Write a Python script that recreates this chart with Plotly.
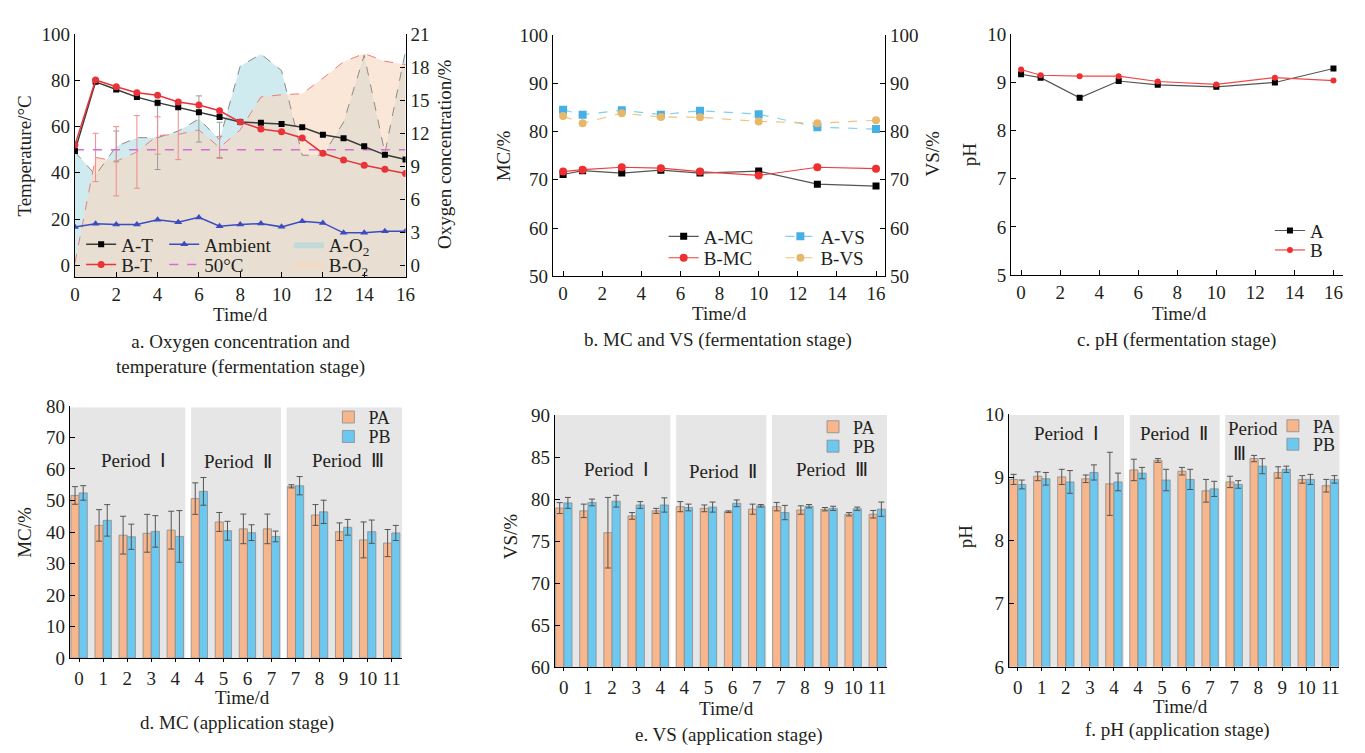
import plotly.graph_objects as go

W, H = 1365, 753
FONT = "Liberation Serif, Times New Roman, serif"
TXT = "#231f20"
FS = 19

# ------------------------------------------------------------------ data
days_a = list(range(17))
temp_A = [49.5, 79.4, 76.1, 72.8, 70.4, 68.4, 66.2, 64.2, 62.0, 61.7, 61.1, 59.7, 56.5, 55.0, 51.5, 47.8, 45.8]
temp_B = [52.0, 80.2, 77.3, 74.7, 73.6, 70.7, 69.4, 66.9, 62.0, 59.0, 57.8, 55.1, 48.5, 45.6, 43.3, 41.5, 39.7]
temp_ambient = [16.5, 17.9, 17.6, 17.6, 19.7, 18.6, 20.7, 16.9, 17.6, 18.0, 16.6, 19.0, 18.3, 14.0, 14.1, 14.7, 14.7]
temp_threshold = 50
o2_A = [10.3, 8.2, 10.8, 11.6, 11.6, 12.2, 13.3, 11.4, 18.1, 19.2, 17.7, 10.0, 10.0, 13.0, 19.1, 10.2, 19.5]
o2_B = [0.2, 9.8, 9.45, 10.3, 11.8, 11.9, 12.3, 10.7, 12.3, 15.3, 15.5, 15.6, 17.0, 18.5, 19.25, 18.55, 18.25]
o2_A_err = [None, None, 1.4, None, 2.9, None, 2.1, 1.6, None, None, None, None, None, None, None, None, None]
o2_B_err = [None, 2.2, 3.15, 3.3, 1.7, 2.3, None, 1.0, None, None, None, None, None, None, None, None, None]

days_bc = [0, 1, 3, 5, 7, 10, 13, 16]
mc_A = [71.1, 71.9, 71.4, 72.0, 71.4, 71.8, 69.1, 68.7]
mc_B = [71.7, 72.1, 72.6, 72.4, 71.7, 70.9, 72.6, 72.3]
vs_A = [84.5, 83.5, 84.4, 83.5, 84.3, 83.6, 80.9, 80.5]
vs_B = [83.2, 81.7, 83.8, 83.0, 82.95, 82.1, 81.7, 82.35]
ph_A = [9.17, 9.10, 8.68, 9.03, 8.95, 8.91, 9.00, 9.29]
ph_B = [9.27, 9.15, 9.13, 9.13, 9.02, 8.96, 9.10, 9.04]

app_labels = ["0", "1", "2", "3", "4", "4", "5", "6", "7", "7", "8", "9", "10", "11"]
periods = ["Period\u00a0\u00a0Ⅰ", "Period\u00a0\u00a0Ⅱ", "Period\u00a0\u00a0Ⅲ"]
mc_PA = [51.6, 42.1, 39.0, 39.6, 40.6, 50.6, 43.2, 41.0, 41.0, 54.5, 45.4, 40.1, 37.5, 36.5]
mc_PA_err = [2.8, 5.0, 6.0, 6.0, 6.0, 5.0, 3.0, 4.7, 4.7, 0.5, 3.3, 2.8, 5.7, 4.3]
mc_PB = [52.4, 43.7, 38.5, 40.2, 38.6, 52.9, 40.4, 39.8, 38.6, 54.7, 46.4, 41.5, 40.1, 39.7]
mc_PB_err = [2.3, 5.0, 4.0, 5.0, 8.2, 4.4, 3.0, 2.5, 1.7, 2.9, 3.7, 2.5, 3.7, 2.4]
vs_PA = [78.93, 78.6, 76.0, 78.0, 78.6, 79.1, 78.9, 78.5, 78.8, 79.1, 78.7, 78.8, 78.2, 78.2]
vs_PA_err = [0.65, 0.8, 4.2, 0.4, 0.3, 0.6, 0.4, 0.1, 0.6, 0.5, 0.5, 0.2, 0.2, 0.45]
vs_PB = [79.55, 79.6, 79.75, 79.3, 79.3, 79.0, 79.05, 79.5, 79.2, 78.4, 79.15, 78.9, 78.85, 78.8]
vs_PB_err = [0.65, 0.4, 0.7, 0.4, 0.85, 0.4, 0.6, 0.4, 0.15, 0.85, 0.2, 0.25, 0.2, 0.85]
ph_PA = [8.97, 9.02, 9.01, 8.98, 8.90, 9.12, 9.27, 9.10, 8.79, 8.93, 9.30, 9.08, 8.97, 8.87]
ph_PA_err = [0.08, 0.07, 0.12, 0.06, 0.5, 0.17, 0.03, 0.06, 0.18, 0.09, 0.05, 0.09, 0.06, 0.1]
ph_PB = [8.89, 8.98, 8.93, 9.08, 8.93, 9.07, 8.96, 8.97, 8.82, 8.89, 9.18, 9.13, 8.97, 8.97]
ph_PB_err = [0.07, 0.1, 0.18, 0.12, 0.14, 0.09, 0.17, 0.16, 0.12, 0.06, 0.12, 0.05, 0.08, 0.06]

# ------------------------------------------------------------------ helpers
def px(xp):
    return xp / W

def py(yp):
    return 1 - yp / H

def dom_x(a, b):
    return [px(a), px(b)]

def dom_y(top, bottom):
    return [py(bottom), py(top)]

font = dict(family=FONT, size=FS, color=TXT)

def axis(**kw):
    d = dict(showline=True, linecolor="black", linewidth=1.2, ticks="inside", ticklen=5,
             tickcolor="black", tickwidth=1.1, showgrid=False, zeroline=False,
             tickfont=font, fixedrange=True)
    d.update(kw)
    return d

legends = {}
leg_count = [0]
LEG_DX = -46  # text start -> legend box left offset

def new_legend(text_x, cy_px, size=FS):
    leg_count[0] += 1
    key = "legend" if leg_count[0] == 1 else "legend%d" % leg_count[0]
    legends[key] = dict(x=px(text_x + LEG_DX), y=py(cy_px), xanchor="left", yanchor="middle",
                        bgcolor="rgba(0,0,0,0)", borderwidth=0,
                        font=dict(family=FONT, size=size, color=TXT),
                        itemwidth=30, tracegroupgap=0)
    return key

def err_subset(xs, ys, errs):
    sx = [x for x, e in zip(xs, errs) if e is not None]
    sy = [y for y, e in zip(ys, errs) if e is not None]
    se = [e for e in errs if e is not None]
    return sx, sy, se

fig = go.Figure()

# ------------------------------------------------------------------ panel a
O2_MIN, O2_MAX = -1.105, 21
base = [O2_MIN] * len(days_a)
fig.add_trace(go.Scatter(x=days_a, y=base, mode="lines", line=dict(width=0), showlegend=False,
                         xaxis="x", yaxis="y", hoverinfo="skip"))
fig.add_trace(go.Scatter(x=days_a, y=o2_A, mode="lines", line=dict(width=0), fill="tonexty",
                         fillcolor="rgba(150,210,222,0.45)", name="A-O<sub>2</sub>",
                         legend=new_legend(333, 241), xaxis="x", yaxis="y"))
fig.add_trace(go.Scatter(x=days_a, y=base, mode="lines", line=dict(width=0), showlegend=False,
                         xaxis="x", yaxis="y", hoverinfo="skip"))
fig.add_trace(go.Scatter(x=days_a, y=o2_B, mode="lines", line=dict(width=0), fill="tonexty",
                         fillcolor="rgba(248,215,190,0.6)", name="B-O<sub>2</sub>",
                         legend=new_legend(333, 262), xaxis="x", yaxis="y"))
fig.add_trace(go.Scatter(x=days_a, y=o2_A, mode="lines", line=dict(color="#8a8a8a", width=1, dash="dash"),
                         showlegend=False, xaxis="x", yaxis="y"))
fig.add_trace(go.Scatter(x=days_a, y=o2_B, mode="lines", line=dict(color="#ee7b7b", width=1, dash="dash"),
                         showlegend=False, xaxis="x", yaxis="y"))
for ys, errs, col in ((o2_A, o2_A_err, "#9a9a9a"), (o2_B, o2_B_err, "#f08a8a")):
    sx, sy, se = err_subset(days_a, ys, errs)
    fig.add_trace(go.Scatter(x=sx, y=sy, mode="markers", marker=dict(size=1, opacity=0),
                             error_y=dict(type="data", array=se, color=col, thickness=1, width=3),
                             showlegend=False, xaxis="x", yaxis="y"))
fig.add_trace(go.Scatter(x=[days_a[0], days_a[-1]], y=[temp_threshold, temp_threshold], mode="lines",
                         line=dict(color="#d36fd3", width=1.5, dash="dash"), name="50°C",
                         legend=new_legend(207, 262), xaxis="x", yaxis="y2"))
fig.add_trace(go.Scatter(x=days_a, y=temp_ambient, mode="lines+markers",
                         line=dict(color="#3b4cc0", width=1.5),
                         marker=dict(symbol="triangle-up", size=7, color="#3b4cc0"), name="Ambient",
                         legend=new_legend(207, 241), xaxis="x", yaxis="y2"))
fig.add_trace(go.Scatter(x=days_a, y=temp_A, mode="lines+markers", line=dict(color="#3a3a3a", width=1.5),
                         marker=dict(symbol="square", size=6, color="black"), name="A-T",
                         legend=new_legend(123, 241), xaxis="x", yaxis="y2"))
fig.add_trace(go.Scatter(x=days_a, y=temp_B, mode="lines+markers", line=dict(color="#e8333a", width=1.5),
                         marker=dict(symbol="circle", size=7, color="#e8333a"), name="B-T",
                         legend=new_legend(123, 262), xaxis="x", yaxis="y2"))

# ------------------------------------------------------------------ panel b
fig.add_trace(go.Scatter(x=days_bc, y=vs_A, mode="lines+markers", line=dict(color="#7fd0f0", width=1.2, dash="dash"),
                         marker=dict(symbol="square", size=8, color="#45b0e6"), name="A-VS",
                         legend=new_legend(830, 233), xaxis="x2", yaxis="y4"))
fig.add_trace(go.Scatter(x=days_bc, y=vs_B, mode="lines+markers", line=dict(color="#f0c27a", width=1.2, dash="dash"),
                         marker=dict(symbol="circle", size=8, color="#e8b86a"), name="B-VS",
                         legend=new_legend(830, 255), xaxis="x2", yaxis="y4"))
fig.add_trace(go.Scatter(x=days_bc, y=mc_A, mode="lines+markers", line=dict(color="#555555", width=1.2),
                         marker=dict(symbol="square", size=7, color="black"), name="A-MC",
                         legend=new_legend(712, 233), xaxis="x2", yaxis="y3"))
fig.add_trace(go.Scatter(x=days_bc, y=mc_B, mode="lines+markers", line=dict(color="#f03c3c", width=1.2),
                         marker=dict(symbol="circle", size=8, color="#f03030"), name="B-MC",
                         legend=new_legend(712, 255), xaxis="x2", yaxis="y3"))

# ------------------------------------------------------------------ panel c
fig.add_trace(go.Scatter(x=days_bc, y=ph_A, mode="lines+markers", line=dict(color="#555555", width=1.2),
                         marker=dict(symbol="square", size=6, color="black"), name="A",
                         legend=new_legend(1325, 227), xaxis="x3", yaxis="y5"))
fig.add_trace(go.Scatter(x=days_bc, y=ph_B, mode="lines+markers", line=dict(color="#f04848", width=1.2),
                         marker=dict(symbol="circle", size=6, color="#f03030"), name="B",
                         legend=new_legend(1325, 247), xaxis="x3", yaxis="y5"))

# ------------------------------------------------------------------ bar panels
idx = list(range(len(app_labels)))
PA_COL, PB_COL = "#f7b68c", "#6cc8ef"

def bars(yA, eA, yB, eB, xa, ya, legA, legB):
    for yv, ev, col, nm, lg in ((yA, eA, PA_COL, "PA", legA), (yB, eB, PB_COL, "PB", legB)):
        fig.add_trace(go.Bar(x=idx, y=yv, name=nm, marker=dict(color=col, line=dict(color="#8c8c8c", width=0.8)),
                             error_y=dict(type="data", array=ev, color="#555555", thickness=1, width=3),
                             legend=new_legend(lg[0], lg[1], 18), xaxis=xa, yaxis=ya))

bars(mc_PA, mc_PA_err, mc_PB, mc_PB_err, "x4", "y6", (373, 419), (373, 439))
bars(vs_PA, vs_PA_err, vs_PB, vs_PB_err, "x5", "y7", (863, 429), (863, 449))
bars(ph_PA, ph_PA_err, ph_PB, ph_PB_err, "x6", "y8", (1328, 428), (1328, 447))

# ------------------------------------------------------------------ axes
cat_ticks = dict(tickmode="array", tickvals=idx, ticktext=app_labels, ticks="outside", ticklen=3)
layout = dict(
    xaxis=axis(domain=dom_x(70.7, 405), range=[0, 16], dtick=2, anchor="y"),
    yaxis=axis(domain=dom_y(25, 275), range=[O2_MIN, O2_MAX], tickvals=[0, 3, 6, 9, 12, 15, 18, 21],
               side="right", anchor="x"),
    yaxis2=axis(range=[-5.26, 100], tickvals=[0, 20, 40, 60, 80, 100], side="left",
                overlaying="y", anchor="x"),
    xaxis2=axis(domain=dom_x(554, 890), range=[-0.52, 16.47], dtick=2, anchor="y3"),
    yaxis3=axis(domain=dom_y(25.7, 274), range=[50, 100], dtick=10, anchor="x2"),
    yaxis4=axis(range=[50, 100], dtick=10, side="right", overlaying="y3", anchor="x2"),
    xaxis3=axis(domain=dom_x(1017.3, 1352.7), range=[-0.51, 16.48], dtick=2, anchor="y5"),
    yaxis5=axis(domain=dom_y(25, 272.7), range=[5, 10], dtick=1, anchor="x3"),
    xaxis4=axis(domain=dom_x(65.7, 401.7), range=[-0.38, 13.44], anchor="y6", **cat_ticks),
    yaxis6=axis(domain=dom_y(407.3, 666.7), range=[0, 80], dtick=10, anchor="x4"),
    xaxis5=axis(domain=dom_x(556, 891.7), range=[-0.37, 13.4], anchor="y7", **cat_ticks),
    yaxis7=axis(domain=dom_y(416.7, 676), range=[60, 90], dtick=5, anchor="x5"),
    xaxis6=axis(domain=dom_x(1015, 1349.3), range=[-0.37, 13.38], anchor="y8", **cat_ticks),
    yaxis8=axis(domain=dom_y(416, 675.7), range=[6, 10], dtick=1, anchor="x6"),
)

# period background bands (category units)
band_edges = [(-0.38, 4.42), (4.66, 8.4), (8.63, 13.44)]
shapes = []
for xa, ya, top, bottom in (("x4", "y6", 79.5, 0), ("x5", "y7", 90, 60), ("x6", "y8", 9.99, 6)):
    for (b0, b1) in band_edges:
        shapes.append(dict(type="rect", xref=xa, yref=ya, x0=b0, x1=b1, y0=bottom, y1=top,
                           fillcolor="#e6e6e6", line=dict(width=0), layer="below"))

# ------------------------------------------------------------------ text
def ann(text, xp, yp, angle=0, size=FS, align="center", xanchor="center"):
    return dict(text=text, x=px(xp), y=py(yp), xref="paper", yref="paper", showarrow=False,
                textangle=angle, font=dict(family=FONT, size=size, color=TXT), align=align,
                xanchor=xanchor, yanchor="middle")

annotations = [
    ann("Temperature/°C", 20, 150, -90),
    ann("Oxygen concentration/%", 445, 148, -90),
    ann("Time/d", 238, 313),
    ann("a. Oxygen concentration and<br>temperature (fermentation stage)", 238, 354),
    ann("MC/%", 504, 150, -90),
    ann("VS/%", 938, 148, -90),
    ann("Time/d", 722, 312),
    ann("b. MC and VS (fermentation stage)", 721, 339),
    ann("pH", 976, 148, -90),
    ann("Time/d", 1188, 312),
    ann("c. pH (fermentation stage)", 1185, 339),
    ann("MC/%", 19, 537, -90),
    ann("Time/d", 240, 707),
    ann("d. MC (application stage)", 235, 733),
    ann("VS/%", 512, 541, -90),
    ann("Time/d", 730, 719),
    ann("e. VS (application stage)", 732, 746),
    ann("pH", 972, 541, -90),
    ann("Time/d", 1189, 716),
    ann("f. pH (application stage)", 1186, 741),
    # period labels
    ann(periods[0], 130, 463), ann(periods[1], 236, 464), ann(periods[2], 347, 463),
    ann(periods[0], 618, 473), ann(periods[1], 726, 475), ann(periods[2], 836, 473),
    ann(periods[0], 1073, 436), ann(periods[1], 1182, 436),
    ann("Period<br>\u00a0Ⅲ", 1235, 443, align="left", xanchor="left"),
]

fig.update_layout(
    width=W, height=H, margin=dict(l=0, r=0, t=0, b=0, pad=0),
    paper_bgcolor="white", plot_bgcolor="rgba(0,0,0,0)",
    font=font, barmode="group", bargap=0.32, bargroupgap=0,
    hovermode=False, shapes=shapes, annotations=annotations,
    **layout, **legends,
)

fig.write_html("out.html", config={"displayModeBar": False},
               post_script="document.body.style.margin='0';document.body.style.overflow='hidden';")
